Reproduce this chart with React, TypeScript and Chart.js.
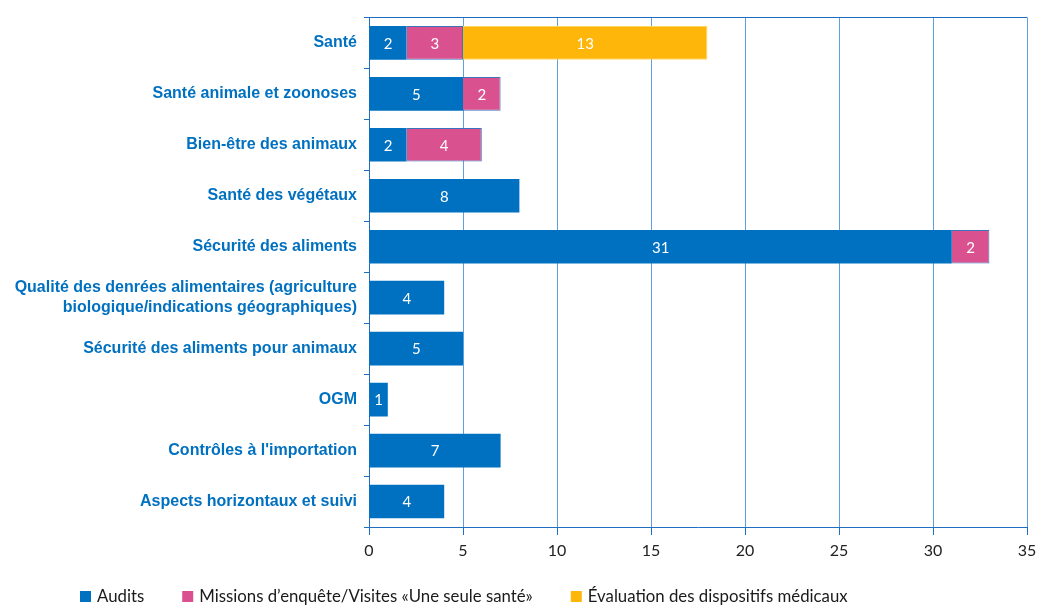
import React, { useEffect, useRef } from 'react';
import { Chart, registerables } from 'chart.js';

Chart.register(...registerables);

const categories: (string | string[])[] = [
  'Santé',
  'Santé animale et zoonoses',
  'Bien-être des animaux',
  'Santé des végétaux',
  'Sécurité des aliments',
  ['Qualité des denrées alimentaires (agriculture', 'biologique/indications géographiques)'],
  'Sécurité des aliments pour animaux',
  'OGM',
  "Contrôles à l'importation",
  'Aspects horizontaux et suivi',
];
const audits = [2, 5, 2, 8, 31, 4, 5, 1, 7, 4];
const missions = [3, 2, 4, null, 2, null, null, null, null, null];
const evaluation = [13, null, null, null, null, null, null, null, null, null];
const seriesNames = ['Audits', 'Missions d’enquête/Visites «Une seule santé»', 'Évaluation des dispositifs médicaux'];
const seriesColors = ['#0070c0', '#d9528f', '#ffb60b'];
const xMax = 35;
const xStep = 5;

const AXIS = 'rgb(30,110,195)';
const GRID = 'rgb(95,160,220)';

const valueLabels = {
  id: 'valueLabels',
  afterDatasetsDraw(chart: any) {
    const ctx = chart.ctx;
    ctx.save();
    ctx.fillStyle = '#ffffff';
    ctx.font = '15px Lato';
    ctx.textAlign = 'center';
    ctx.textBaseline = 'middle';
    chart.data.datasets.forEach((ds: any, di: number) => {
      const meta = chart.getDatasetMeta(di);
      meta.data.forEach((el: any, i: number) => {
        const v = ds.data[i];
        if (v == null) return;
        const p = el.getProps(['x', 'y', 'base'], true);
        ctx.fillText(String(v), (p.x + p.base) / 2, p.y + 1);
      });
    });
    ctx.restore();
  },
};

const frameAndLegend = {
  id: 'frameAndLegend',
  afterDraw(chart: any) {
    const ctx = chart.ctx;
    const a = chart.chartArea;
    ctx.save();
    ctx.strokeStyle = AXIS;
    ctx.lineWidth = 1;
    ctx.beginPath();
    ctx.moveTo(a.left, Math.round(a.top) + 0.5);
    ctx.lineTo(a.right, Math.round(a.top) + 0.5);
    ctx.stroke();
    // legend
    ctx.font = '16.8px Lato';
    ctx.textBaseline = 'middle';
    ctx.textAlign = 'left';
    let x = 80;
    const y = 597;
    seriesNames.forEach((name, i) => {
      ctx.fillStyle = seriesColors[i];
      ctx.fillRect(x, y - 6, 11, 11);
      ctx.fillStyle = '#1a1a1a';
      ctx.fillText(name, x + 17, y);
      x += 17 + ctx.measureText(name).width + 38;
    });
    ctx.restore();
  },
};

export default function App() {
  const ref = useRef<HTMLCanvasElement>(null);
  useEffect(() => {
    if (!ref.current) return;
    const chart = new Chart(ref.current, {
      type: 'bar',
      data: {
        labels: categories,
        datasets: [
          { label: seriesNames[0], data: audits, backgroundColor: seriesColors[0], borderWidth: 0 },
          { label: seriesNames[1], data: missions, backgroundColor: seriesColors[1], borderColor: '#3d72bd', borderWidth: 1 },
          { label: seriesNames[2], data: evaluation, backgroundColor: seriesColors[2], borderColor: '#ffd45a', borderWidth: 1 },
        ],
      },
      options: {
        indexAxis: 'y',
        responsive: false,
        animation: false,
        layout: { padding: { top: 17, right: 12, bottom: 39, left: 0 } },
        datasets: { bar: { barPercentage: 0.66, categoryPercentage: 1 } },
        plugins: { legend: { display: false }, tooltip: { enabled: false } },
        scales: {
          x: {
            stacked: true,
            min: 0,
            max: xMax,
            ticks: { stepSize: xStep, color: '#222', font: { family: 'Lato', size: 16 }, padding: 6 },
            grid: { color: GRID, tickColor: AXIS, tickLength: 8, lineWidth: 1 },
            border: { color: AXIS, width: 1 },
            afterFit: (s: any) => { s.height = 40; s.paddingRight = 0; s.paddingLeft = 0; },
          },
          y: {
            stacked: true,
            ticks: {
              color: '#0070c0',
              font: { family: 'Liberation Sans', size: 16, weight: 'bold', lineHeight: 1.3 },
              padding: 7,
            },
            grid: { drawOnChartArea: false, color: AXIS, tickColor: AXIS, tickLength: 5 },
            border: { color: AXIS, width: 1 },
            afterFit: (s: any) => { s.width = 369; },
          },
        },
      },
      plugins: [valueLabels, frameAndLegend],
    });
    return () => chart.destroy();
  }, []);
  return (
    <div style={{ position: 'fixed', left: 0, top: 0, width: 1039, height: 606, background: '#fff' }}>
      <canvas ref={ref} width={1039} height={606} />
    </div>
  );
}
